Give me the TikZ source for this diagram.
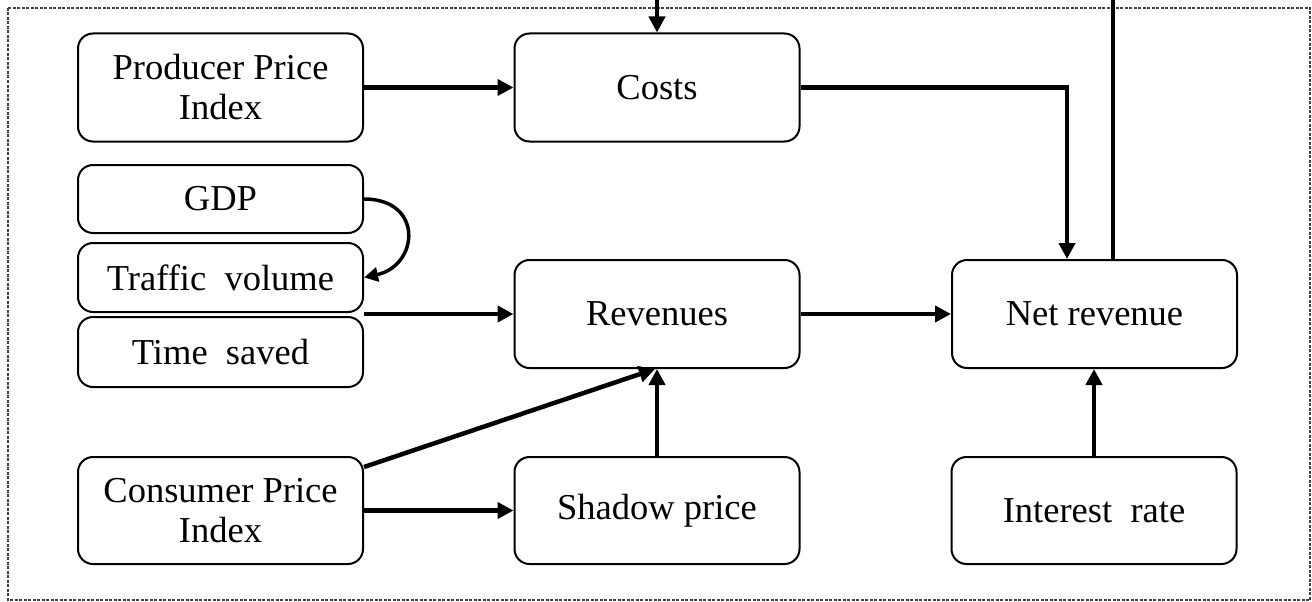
\documentclass[tikz,border=0pt]{standalone}
\usepackage{fontspec}
\setmainfont{Liberation Serif}
\usetikzlibrary{arrows.meta}
\begin{document}
\begin{tikzpicture}[x=1pt,y=-1pt,
  box/.style={draw=black, line width=2pt, rounded corners=15pt, align=center,
    minimum width=285pt, inner sep=0pt, font=\fontsize{36.5}{40}\selectfont},
  tall/.style={box, minimum height=108pt},
  short/.style={box, minimum height=69pt},
  arr/.style={draw=black, line width=4.5pt, -{Triangle[length=16pt,width=16pt]}},
  plain/.style={draw=black, line width=4.5pt},
  frame/.style={draw=black!75, line width=1.2pt, dash pattern=on 3pt off 1.5pt}]
\useasboundingbox (0,0) rectangle (1312,602);
\draw[frame] (8,8) rectangle (1310,600);

\node[tall] (ppi) at (220.5,87.5) {Producer Price\\Index};
\node[tall] (costs) at (657,87.5) {Costs};
\node[short, minimum height=68pt] (gdp) at (220.5,199) {GDP};
\node[short] (traffic) at (220.5,277.5) {Traffic\ \ volume};
\node[short, minimum height=70pt] (time) at (220.5,352) {Time\ \ saved};
\node[tall] (rev) at (657,314) {Revenues};
\node[tall] (net) at (1094.5,314) {Net revenue};
\node[tall, minimum height=107pt] (cpi) at (220.5,510.5) {Consumer Price\\Index};
\node[tall, minimum height=107pt] (shadow) at (657,510.5) {Shadow price};
\node[tall, minimum height=107pt] (int) at (1094,510.5) {Interest\ \ rate};

\coordinate (topin) at (657,0);
\coordinate (topout) at (1113,0);

\draw[arr] (topin) -- (costs.north);
\draw[plain] (net.north -| topout) -- (topout);
\draw[arr] (ppi.east) -- (costs.west);
\draw[arr] (costs.east) -| ([xshift=-27.5pt]net.north);
\draw[draw=black, line width=3.5pt, -{Triangle[length=14pt,width=14pt]}]
  (gdp.east) .. controls +(60,0) and +(55,-12) .. (traffic.east);
\draw[arr] (traffic.south east |- rev.west) -- (rev.west);
\draw[arr] (rev.east) -- (net.west);
\draw[arr] ([yshift=-11pt]cpi.north east) -- ([xshift=-2pt]rev.south);
\draw[arr] (cpi.east) -- (shadow.west);
\draw[arr] (shadow.north) -- (rev.south);
\draw[arr] (int.north) -- (int.north |- net.south);
\end{tikzpicture}
\end{document}
